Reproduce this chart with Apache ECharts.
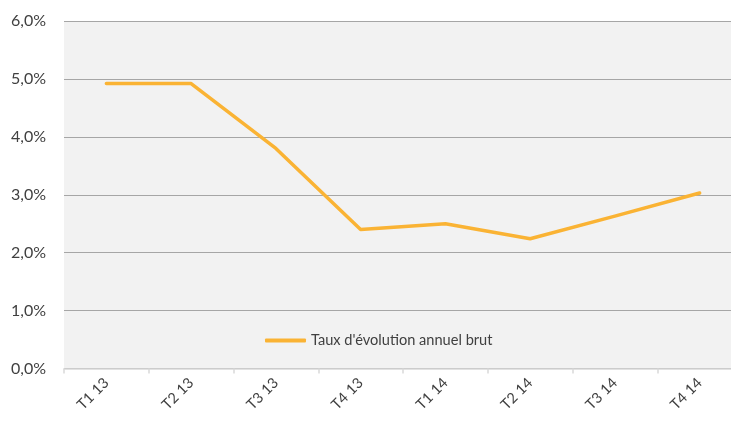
<!DOCTYPE html>
<html>
<head>
<meta charset="utf-8">
<script src="https://cdn.jsdelivr.net/npm/echarts@6/dist/echarts.min.js"></script>
<style>
html,body{margin:0;padding:0;background:#fff;overflow:hidden;width:731px;height:421px;}
#c{width:742px;height:421px;}
</style>
</head>
<body>
<div id="c"></div>
<script>
const categories = ['T1 13','T2 13','T3 13','T4 13','T1 14','T2 14','T3 14','T4 14'];
const tauxEvolution = [4.92, 4.92, 3.80, 2.40, 2.50, 2.24, 2.63, 3.03];
const seriesName = "Taux d'évolution annuel brut";
const yMin = 0, yMax = 6, yStep = 1;

const chart = echarts.init(document.getElementById('c'), null, {renderer:'canvas'});
chart.setOption({
  animation:false,
  backgroundColor:'#ffffff',
  textStyle:{fontFamily:'Lato, "Open Sans", sans-serif'},
  grid:{left:64, top:21, right:0, bottom:52.5, show:true, backgroundColor:'#F2F2F2', borderWidth:0, containLabel:false},
  legend:{
    left:260, top:328,
    icon:'roundRect', itemWidth:41, itemHeight:4,
    textStyle:{fontSize:14.6, color:'#404040', fontFamily:'Lato, sans-serif'},
    data:[seriesName]
  },
  xAxis:{
    type:'category', data:categories, boundaryGap:true,
    axisLine:{show:true, lineStyle:{color:'#D9D9D9', width:1.5}},
    axisTick:{show:true, length:5, lineStyle:{color:'#D9D9D9', width:1.5}},
    axisLabel:{rotate:45, interval:0, margin:12, fontSize:14.6, color:'#404040', fontFamily:'Lato, sans-serif'}
  },
  yAxis:{
    type:'value', min:yMin, max:yMax, interval:yStep,
    axisLine:{show:false}, axisTick:{show:false},
    splitLine:{lineStyle:{color:'#A6A6A6', width:1.2}},
    axisLabel:{margin:18, fontSize:16, color:'#404040', fontFamily:'Lato, sans-serif',
      formatter:v=>v.toFixed(1).replace('.',',')+'%'}
  },
  series:[{
    name:seriesName, type:'line', data:tauxEvolution,
    symbol:'none', smooth:false,
    lineStyle:{color:'#FAB334', width:3.5, cap:'round', join:'round'},
    itemStyle:{color:'#FAB334'}
  }]
});
</script>
</body>
</html>
